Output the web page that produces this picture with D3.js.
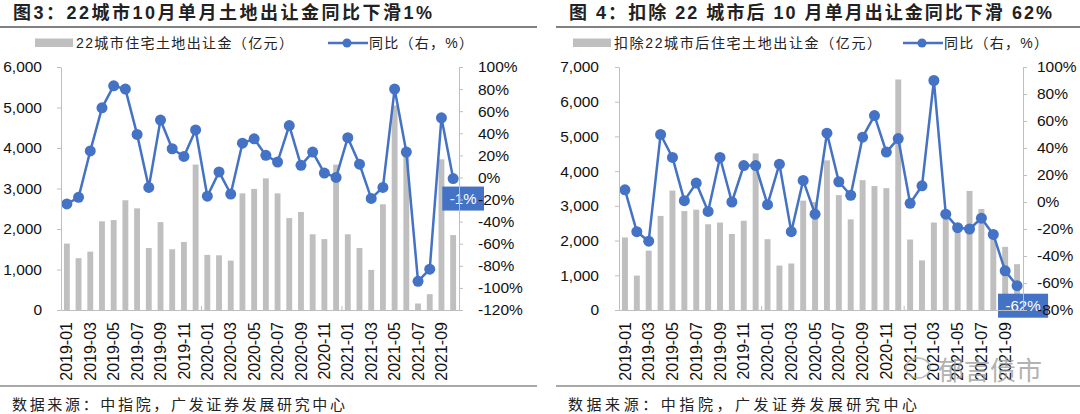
<!DOCTYPE html>
<html>
<head>
<meta charset="utf-8">
<script src="https://cdn.jsdelivr.net/npm/d3@7"></script>
<style>
  body { margin: 0; background: #fff; }
  svg text { font-family: "Liberation Sans", Arial, "Noto Sans CJK SC", sans-serif; }
</style>
</head>
<body>
<svg width="1080" height="414"></svg>
<script>
var MONTHS = ['2019-01','2019-02','2019-03','2019-04','2019-05','2019-06','2019-07','2019-08','2019-09','2019-10','2019-11','2019-12',
  '2020-01','2020-02','2020-03','2020-04','2020-05','2020-06','2020-07','2020-08','2020-09','2020-10','2020-11','2020-12',
  '2021-01','2021-02','2021-03','2021-04','2021-05','2021-06','2021-07','2021-08','2021-09','2021-10'];
var TICK_MONTHS = ['2019-01','2019-03','2019-05','2019-07','2019-09','2019-11','2020-01','2020-03','2020-05',
  '2020-07','2020-09','2020-11','2021-01','2021-03','2021-05','2021-07','2021-09'];
var YEAR_STARTS = ['2020-01', '2021-01'];

// 22城市住宅土地出让金（亿元）与同比（%）
var CITY22_LAND = [1640, 1280, 1440, 2190, 2220, 2710, 2510, 1530, 2170, 1500, 1680, 3590,
  1360, 1350, 1220, 2880, 2990, 3250, 2880, 2270, 2420, 1870, 1750, 3590,
  1870, 1530, 990, 2610, 5050, 3800, 160, 390, 3720, 1850];
var CITY22_YOY = [-24, -18, 24, 63, 83, 80, 39, -9, 52, 26, 19, 43,
  -17, 5, -15, 31, 35, 20, 14, 47, 11, 23, 4, 0,
  36, 12, -19, -9, 80, 23, -94, -83, 54, -1];

// 扣除22城市后住宅土地出让金（亿元）与同比（%）
var OTHER_LAND = [2090, 990, 1710, 2710, 3440, 2850, 2890, 2470, 2520, 2190, 2570, 4510,
  2040, 1280, 1340, 3150, 3110, 4310, 3310, 2610, 3740, 3570, 3510, 6640,
  2030, 1430, 2520, 2650, 2250, 3430, 2910, 2060, 1820, 1320];
var OTHER_YOY = [9, -22, -29, 50, 33, 1, 14, -7, 33, 0, 27, 27,
  -2, 28, -22, 16, -9, 51, 15, 5, 48, 64, 37, 47,
  -1, 12, 90, -9, -19, -20, -12, -24, -51, -62];

var CITY22_LEFT_TICKS = [0, 1000, 2000, 3000, 4000, 5000, 6000];
var CITY22_RIGHT_TICKS = [-120, -100, -80, -60, -40, -20, 0, 20, 40, 60, 80, 100];
var OTHER_LEFT_TICKS = [0, 1000, 2000, 3000, 4000, 5000, 6000, 7000];
var OTHER_RIGHT_TICKS = [-80, -60, -40, -20, 0, 20, 40, 60, 80, 100];

var BAR_COLOR = '#bfbfbf';
var LINE_COLOR = '#4472c4';
var AXIS_COLOR = '#bfbfbf';

var svg = d3.select('svg');

function drawPanel(p) {
  var g = svg.append('g');
  var top = 67, bottom = 310;

  // header
  g.append('text')
    .attr('x', p.titleX).attr('y', 19)
    .attr('textLength', p.titleW).attr('lengthAdjust', 'spacing')
    .style('font-size', '18px').style('font-weight', 'bold').style('fill', '#222')
    .text(p.title);
  g.append('line')
    .attr('x1', p.panelX0).attr('x2', p.panelX1).attr('y1', 27).attr('y2', 27)
    .style('stroke', '#808080').style('stroke-width', 2);

  // legend
  g.append('rect')
    .attr('x', p.legX).attr('y', 38.5).attr('width', 38).attr('height', 8.5)
    .style('fill', BAR_COLOR);
  g.append('text')
    .attr('x', p.legX + 41).attr('y', 48)
    .attr('textLength', p.legTextW).attr('lengthAdjust', 'spacing')
    .style('font-size', '14px').style('fill', '#222')
    .text(p.barName);
  g.append('line')
    .attr('x1', p.legLineX).attr('x2', p.legLineX + 40).attr('y1', 43).attr('y2', 43)
    .style('stroke', LINE_COLOR).style('stroke-width', 2.5);
  g.append('circle')
    .attr('cx', p.legLineX + 19).attr('cy', 43).attr('r', 4.5)
    .style('fill', LINE_COLOR);
  g.append('text')
    .attr('x', p.legLineX + 41).attr('y', 48)
    .attr('textLength', 104).attr('lengthAdjust', 'spacing')
    .style('font-size', '14px').style('fill', '#222')
    .text('同比（右，%）');

  // scales
  var x = d3.scaleBand().domain(MONTHS).range([p.left, p.right])
    .paddingInner(0.5).paddingOuter(0.25);
  var yL = d3.scaleLinear().domain(d3.extent(p.leftTicks)).range([bottom, top]);
  var yR = d3.scaleLinear().domain(d3.extent(p.rightTicks)).range([bottom, top]);
  var cx = function (m) { return x(m) + x.bandwidth() / 2; };

  // bars
  g.append('g').selectAll('rect')
    .data(p.bars)
    .enter().append('rect')
    .attr('x', function (d, i) { return x(MONTHS[i]); })
    .attr('y', function (d) { return yL(d); })
    .attr('width', x.bandwidth())
    .attr('height', function (d) { return bottom - yL(d); })
    .style('fill', BAR_COLOR);

  // yoy line
  var line = d3.line()
    .x(function (d, i) { return cx(MONTHS[i]); })
    .y(function (d) { return yR(d); });
  g.append('path')
    .datum(p.yoy)
    .attr('d', line)
    .style('fill', 'none').style('stroke', LINE_COLOR).style('stroke-width', 2.5)
    .style('stroke-linejoin', 'round');
  g.append('g').selectAll('circle')
    .data(p.yoy)
    .enter().append('circle')
    .attr('cx', function (d, i) { return cx(MONTHS[i]); })
    .attr('cy', function (d) { return yR(d); })
    .attr('r', 5.5)
    .style('fill', LINE_COLOR);

  // last value label
  var last = p.yoy.length - 1;
  var lx = cx(MONTHS[last]) + p.lblShift, ly = yR(p.yoy[last]) + 8;
  var lbl = g.append('g');
  var lt = lbl.append('text')
    .attr('x', lx).attr('y', ly + 17)
    .style('text-anchor', 'middle').style('font-size', '15px').style('fill', '#fff')
    .text(p.yoy[last] + '%');
  var tw = lt.node().getComputedTextLength() + 15;
  lbl.insert('rect', 'text')
    .attr('x', lx - tw / 2).attr('y', ly).attr('width', tw).attr('height', 24)
    .style('fill', LINE_COLOR);

  // axes (drawn last, tick labels sit over the value box as in the source)
  var axL = g.append('g')
    .attr('transform', 'translate(' + p.left + ',0)')
    .call(d3.axisLeft(yL).tickValues(p.leftTicks).tickSize(4).tickSizeOuter(0)
      .tickPadding(p.padL).tickFormat(d3.format(',')));
  var axR = g.append('g')
    .attr('transform', 'translate(' + p.right + ',0)')
    .call(d3.axisRight(yR).tickValues(p.rightTicks).tickSize(4).tickSizeOuter(0)
      .tickPadding(p.padR).tickFormat(function (d) { return d + '%'; }));
  var axB = g.append('g')
    .attr('transform', 'translate(0,' + bottom + ')')
    .call(d3.axisBottom(x).tickValues(TICK_MONTHS).tickSize(0).tickSizeOuter(0));
  axB.selectAll('text')
    .attr('transform', 'rotate(-90)')
    .attr('x', -12).attr('y', 0).attr('dy', '0.35em')
    .style('text-anchor', 'end');
  var step = x.step();
  axB.selectAll('.yr')
    .data(YEAR_STARTS)
    .enter().append('line')
    .attr('x1', function (m) { return x(m) - step * x.paddingInner() / 2; })
    .attr('x2', function (m) { return x(m) - step * x.paddingInner() / 2; })
    .attr('y1', 0).attr('y2', -4)
    .style('stroke', AXIS_COLOR);

  [axL, axR, axB].forEach(function (a) {
    a.selectAll('path, line').style('stroke', AXIS_COLOR);
    a.selectAll('text').style('font-size', '16px').style('fill', '#111')
      .style('font-family', '"Liberation Sans", Arial, sans-serif');
  });
  axL.selectAll('text').style('font-size', '15.5px');
  axR.selectAll('text').style('font-size', '15.5px');

  // source
  g.append('line')
    .attr('x1', p.panelX0).attr('x2', p.panelX1).attr('y1', 386).attr('y2', 386)
    .style('stroke', '#555').style('stroke-width', 1.2);
  g.append('text')
    .attr('x', p.titleX - 1).attr('y', 410)
    .attr('textLength', p.srcW).attr('lengthAdjust', 'spacing')
    .style('font-size', '15px').style('fill', '#222')
    .text('数据来源：中指院，广发证券发展研究中心');
}

drawPanel({
  title: '图3：22城市10月单月土地出让金同比下滑1%', titleX: 13, titleW: 419,
  panelX0: 0, panelX1: 537,
  barName: '22城市住宅土地出让金（亿元）', legX: 35, legTextW: 217, legLineX: 328,
  left: 61, right: 459, padL: 15, padR: 15,
  leftTicks: CITY22_LEFT_TICKS, rightTicks: CITY22_RIGHT_TICKS,
  bars: CITY22_LAND, yoy: CITY22_YOY, lblShift: 10, srcW: 333
});

drawPanel({
  title: '图 4：扣除 22 城市后 10 月单月出让金同比下滑 62%', titleX: 569, titleW: 483,
  panelX0: 556, panelX1: 1080,
  barName: '扣除22城市后住宅土地出让金（亿元）', legX: 573, legTextW: 267, legLineX: 903,
  left: 619, right: 1023, padL: 16, padR: 10,
  leftTicks: OTHER_LEFT_TICKS, rightTicks: OTHER_RIGHT_TICKS,
  bars: OTHER_LAND, yoy: OTHER_YOY, lblShift: 6, srcW: 349
});

// watermark
svg.append('ellipse')
  .attr('cx', 918).attr('cy', 368).attr('rx', 12).attr('ry', 10)
  .style('fill', 'none').style('stroke', '#aaa').style('stroke-width', 1.5).style('opacity', 0.8);
svg.append('text')
  .attr('x', 938).attr('y', 380)
  .style('font-size', '26px').style('fill', '#999').style('opacity', 0.75)
  .style('font-family', '"Noto Sans CJK SC", sans-serif')
  .text('郁言债市');
</script>
</body>
</html>
